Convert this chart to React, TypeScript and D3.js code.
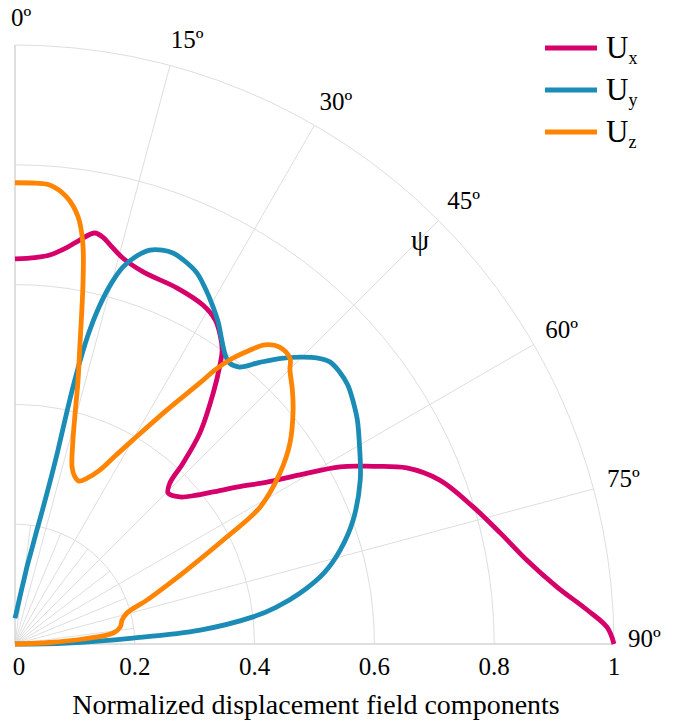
import React from 'react';
import * as d3 from 'd3';

const psiTicks = [0, 15, 30, 45, 60, 75, 90];
const minorPsi = [7.5, 22.5, 37.5, 52.5, 67.5, 82.5];
const rGrid = [0.2, 0.4, 0.6, 0.8, 1];
const rTickLabels = [0, 0.2, 0.4, 0.6, 0.8, 1];
const seriesNames = ['x', 'y', 'z'];
const seriesColors = ['#d6006b', '#1a8cb6', '#ff8402'];

const ux: [number, number][] = [
  [0, 0.643], [3, 0.646], [5.1, 0.652], [7.5, 0.668], [9.1, 0.683], [11, 0.699], [12.3, 0.694],
  [13.4, 0.685], [15.6, 0.669], [19, 0.657], [24.5, 0.653], [29, 0.647], [31.7, 0.636],
  [33.6, 0.619], [35.2, 0.6], [36.3, 0.578], [38.3, 0.534], [41.2, 0.469], [42.9, 0.412],
  [43.9, 0.373], [45.4, 0.359], [48.3, 0.369], [50.5, 0.39], [52.5, 0.417], [55, 0.458],
  [57.3, 0.5], [59.3, 0.553], [61.4, 0.618], [63.6, 0.667], [65.8, 0.717], [68.9, 0.76],
  [73.3, 0.798], [77.1, 0.831], [80.7, 0.866], [84, 0.91], [86.6, 0.957], [88.4, 0.989], [90, 1.0],
];

const uy: [number, number][] = [
  [0, 0.043], [2, 0.05], [4, 0.062], [6, 0.08], [8, 0.11], [9, 0.135], [10, 0.16], [10.8, 0.19],
  [11.6, 0.23], [12.2, 0.28], [12.5, 0.33], [12.6, 0.4], [12.8, 0.46], [13.3, 0.53], [14, 0.58],
  [15, 0.625], [16, 0.655], [17.5, 0.68], [18.9, 0.695], [20.5, 0.702], [22, 0.704], [24, 0.699],
  [26.1, 0.69], [28.3, 0.672], [30.4, 0.653], [32.3, 0.635], [34.2, 0.614], [36, 0.597],
  [37.3, 0.59], [39, 0.595], [41, 0.623], [43, 0.652], [44.8, 0.675], [46.5, 0.694], [48.2, 0.706],
  [50, 0.707], [52.1, 0.704], [54.5, 0.694], [56.8, 0.683], [60, 0.664], [64.6, 0.638],
  [69.9, 0.601], [73.9, 0.565], [77, 0.53], [79.9, 0.483], [82, 0.44], [83.5, 0.4], [85.7, 0.31],
  [87.1, 0.197], [88.9, 0.087], [90, 0],
];

const uz: [number, number][] = [
  [0, 0.77], [2.5, 0.77], [4.4, 0.768], [6.6, 0.751], [8.4, 0.721], [9.6, 0.679], [10.6, 0.618],
  [11.6, 0.55], [12.3, 0.508], [13.5, 0.45], [14.6, 0.398], [16, 0.35], [17.9, 0.31], [19.6, 0.297],
  [21.4, 0.292], [23.5, 0.302], [26, 0.323], [28, 0.355], [30, 0.393], [33, 0.466], [35.3, 0.534],
  [36.1, 0.566], [37.1, 0.595], [38.5, 0.625], [39.9, 0.651], [41.7, 0.664], [43.9, 0.662],
  [45.1, 0.648], [47.5, 0.628], [49.9, 0.607], [53.8, 0.569], [57.2, 0.526], [60.8, 0.469],
  [63.2, 0.396], [66.7, 0.312], [69, 0.27], [71.6, 0.232], [74.5, 0.194], [77.5, 0.183],
  [80.8, 0.178], [83.6, 0.165], [85.8, 0.114], [87.5, 0.058], [90, 0],
];

const seriesData = [ux, uy, uz];

export default function App() {
  const W = 682, H = 721;
  const cx = 15, cy = 644, R = 599;
  const font = '"Liberation Serif", "Times New Roman", serif';
  const rs = d3.scaleLinear().domain([0, 1]).range([0, R]);
  const ang = d3.scaleLinear().domain([0, 360]).range([0, 2 * Math.PI]);
  const px = (deg: number, r: number) => cx + rs(r) * Math.sin(ang(deg));
  const py = (deg: number, r: number) => cy - rs(r) * Math.cos(ang(deg));

  const radial = d3
    .lineRadial<[number, number]>()
    .angle((d) => ang(d[0]))
    .radius((d) => rs(d[1]))
    .curve(d3.curveCatmullRom.alpha(0.5));

  const arcPath = (r: number) =>
    `M${px(0, r)},${py(0, r)} A${rs(r)},${rs(r)} 0 0 1 ${px(90, r)},${py(90, r)}`;

  const gridColor = '#dedede';

  return (
    <svg width={W} height={H} style={{ position: 'absolute', left: 0, top: 0, background: '#fff' }}>
      <rect width={W} height={H} fill="#fff" />
      {/* grid arcs */}
      {rGrid.map((r) => (
        <path key={'a' + r} d={arcPath(r)} fill="none" stroke={gridColor} strokeWidth={1} />
      ))}
      {/* minor radial lines */}
      {minorPsi.map((a) => (
        <line key={'m' + a} x1={cx} y1={cy} x2={px(a, 0.2)} y2={py(a, 0.2)} stroke={gridColor} strokeWidth={1} />
      ))}
      {/* major radial lines */}
      {psiTicks.slice(1, -1).map((a) => (
        <line key={'r' + a} x1={cx} y1={cy} x2={px(a, 1)} y2={py(a, 1)} stroke={gridColor} strokeWidth={1} />
      ))}
      {/* axes */}
      <line x1={cx} y1={cy} x2={px(0, 1)} y2={py(0, 1)} stroke="#d4d4d4" strokeWidth={1.5} />
      <line x1={cx} y1={cy} x2={px(90, 1)} y2={py(90, 1)} stroke="#d4d4d4" strokeWidth={1.5} />

      {/* series */}
      <g transform={`translate(${cx},${cy})`}>
        {seriesData.map((d, i) => (
          <path key={'s' + i} d={radial(d) || ''} fill="none" stroke={seriesColors[i]} strokeWidth={4.8} strokeLinejoin="round" />
        ))}
      </g>

      {/* angular labels */}
      {psiTicks.map((a) => {
        const s = Math.sin(ang(a));
        const c = Math.cos(ang(a));
        return (
          <text
            key={'t' + a}
            x={px(a, 1) - 4 + 18 * s}
            y={py(a, 1) - 19 * c + 3 * s}
            fontFamily={font}
            fontSize={25}
            fill="#000"
          >
            {`${a}º`}
          </text>
        );
      })}
      <text x={420} y={250} fontFamily={font} fontSize={29} textAnchor="middle" fill="#000">ψ</text>

      {/* radial tick labels */}
      {rTickLabels.map((v, i) => (
        <text
          key={'rl' + v}
          x={cx + rs(v) + (i === 0 ? 4 : 0)}
          y={675}
          fontFamily={font}
          fontSize={25}
          textAnchor="middle"
          fill="#000"
        >
          {String(v)}
        </text>
      ))}
      <text x={316} y={714} fontFamily={font} fontSize={28} textAnchor="middle" fill="#000">
        Normalized displacement field components
      </text>

      {/* legend */}
      {seriesNames.map((n, i) => (
        <g key={'lg' + n} transform={`translate(545, ${48 + i * 42})`}>
          <line x1={0} y1={0} x2={52} y2={0} stroke={seriesColors[i]} strokeWidth={5} />
          <text x={61} y={9.5} fontFamily={font} fontSize={31} fill="#000">
            U
            <tspan fontSize={18} dy={6}>{n}</tspan>
          </text>
        </g>
      ))}
    </svg>
  );
}
